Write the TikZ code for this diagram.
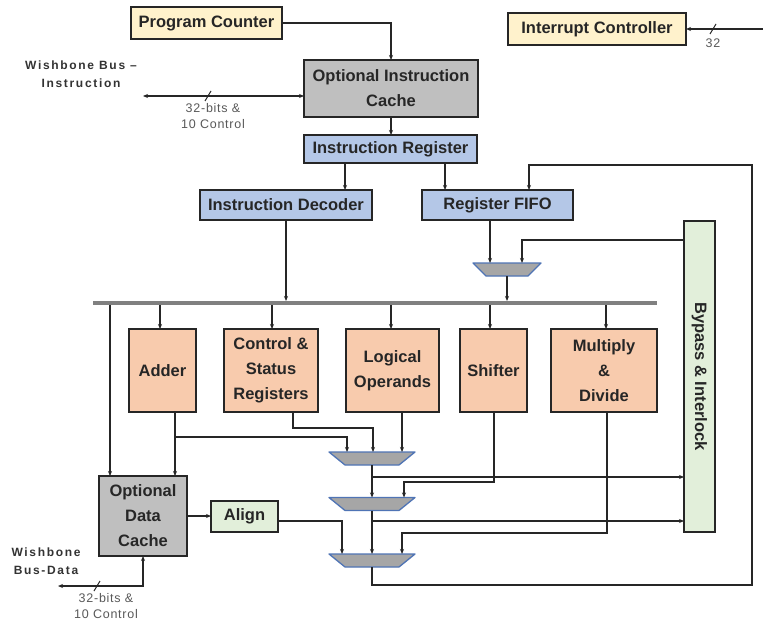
\documentclass[tikz,border=0pt]{standalone}
\usepackage{fontspec}
\setmainfont{Liberation Sans}
\newfontfamily\spacedfont[LetterSpace=14]{Liberation Sans}
\newfontfamily\smallspaced[LetterSpace=6]{Liberation Sans}
\usetikzlibrary{arrows.meta,shapes.geometric,calc}
\definecolor{pcfill}{HTML}{FFF2CC}
\definecolor{grayfill}{HTML}{BFBFBF}
\definecolor{bluefill}{HTML}{B4C7E7}
\definecolor{orangefill}{HTML}{F8CBAD}
\definecolor{greenfill}{HTML}{E2EFDA}
\definecolor{muxfill}{HTML}{A6A6A6}
\definecolor{muxborder}{HTML}{4F74B5}
\definecolor{ink}{HTML}{262626}
\definecolor{labelgray}{HTML}{333333}
\definecolor{smallgray}{HTML}{595959}
\definecolor{busgray}{HTML}{808080}
\begin{document}
\begin{tikzpicture}[x=1pt,y=-1pt,
  box/.style={draw=ink, line width=1.4pt, inner sep=0pt, outer sep=0pt, align=center,
    text=ink, font=\bfseries\fontsize{16.5}{25}\selectfont},
  muxbox/.style={rectangle, inner sep=0pt, outer sep=0pt, minimum height=13},
  muxshape/.style={draw=muxborder, fill=muxfill, line width=1.3pt, line join=round},
  conn/.style={draw=ink, line width=1.2pt},
  arr/.style={conn, -{Stealth[length=5pt,width=4pt]}},
  barr/.style={conn, {Stealth[length=5pt,width=4pt]}-{Stealth[length=5pt,width=4pt]}},
  wlabel/.style={align=center, text=labelgray, font=\spacedfont\bfseries\fontsize{12}{18}\selectfont},
  slabel/.style={align=center, text=smallgray, font=\smallspaced\fontsize{12.5}{16}\selectfont},
  slash/.style={conn, line width=1pt}
]
\useasboundingbox (0,0) rectangle (763,623);
\fill[white] (0,0) rectangle (763,623);

% boxes
\node[box, fill=pcfill, minimum width=151, minimum height=32] (pc) at (206.5,23) {Program Counter};
\node[box, fill=pcfill, minimum width=178, minimum height=32] (ic) at (597,29) {Interrupt Controller};
\node[box, fill=grayfill, minimum width=174, minimum height=57] (oic) at (391,88.5) {Optional Instruction\\Cache};
\node[box, fill=bluefill, minimum width=173, minimum height=28] (ir) at (390.5,149) {Instruction Register};
\node[box, fill=bluefill, minimum width=172, minimum height=30] (idec) at (286,205) {Instruction Decoder};
\node[box, fill=bluefill, minimum width=151, minimum height=30] (rf) at (497.5,205) {Register FIFO};
\node[box, fill=orangefill, minimum width=67, minimum height=83] (adder) at (162.5,370.5) {Adder};
\node[box, fill=orangefill, minimum width=94, minimum height=83] (csr) at (271,370.5) {Control \&\\Status\\Registers};
\node[box, fill=orangefill, minimum width=93, minimum height=83] (logic) at (392.5,370.5) {Logical\\Operands};
\node[box, fill=orangefill, minimum width=67, minimum height=83] (shift) at (493.5,370.5) {Shifter};
\node[box, fill=orangefill, minimum width=106, minimum height=83] (mul) at (604,370.5) {Multiply\\\&\\Divide};
\node[box, fill=greenfill, minimum width=31, minimum height=311] (byp) at (699.5,376.5) {};
\node[text=ink, font=\bfseries\fontsize{16.5}{20}\selectfont, rotate=-90] (byptext) at (byp.center) {Bypass \& Interlock};
\node[box, fill=grayfill, minimum width=88, minimum height=80] (odc) at (143,516) {Optional\\Data\\Cache};
\node[box, fill=greenfill, minimum width=67, minimum height=31] (align) at (244.5,516.5) {Align};

% muxes
\node[muxbox, minimum width=68] (m0) at (507,269.5) {};
\node[muxbox, minimum width=86] (m1) at (372,458.5) {};
\node[muxbox, minimum width=86] (m2) at (372,504) {};
\node[muxbox, minimum width=86] (m3) at (372,560.5) {};
\draw[muxshape] (m0.north west) -- (m0.north east) -- ([xshift=-13pt]m0.south east) -- ([xshift=13pt]m0.south west) -- cycle;
\foreach \m in {m1,m2,m3}{
  \draw[muxshape] (\m.north west) -- (\m.north east) -- ([xshift=-16pt]\m.south east) -- ([xshift=16pt]\m.south west) -- cycle;
}

% bus bar
\coordinate (busL) at (93,303);
\coordinate (busR) at (657,303);
\draw[busgray, line width=4pt] (busL) -- (busR);

% labels
\node[wlabel] (wbi) at (81,74) {Wishbone Bus –\\Instruction};
\node[slabel] (wbil) at (213,116) {32-bits \&\\10 Control};
\node[wlabel] (wbd) at (46,561) {Wishbone\\Bus-Data};
\node[slabel] (wbdl) at (106,606) {32-bits \&\\10 Control};
\node[slabel] (il) at (713,43) {32};

% top connections
\draw[arr] (pc.east) -| (oic.north);
\coordinate (wbiend) at (143,96);
\draw[barr] (wbiend) -- (oic.west |- wbiend);
\draw[slash] (205,101) -- (211,91);
\draw[arr] (oic.south) -- (oic.south |- ir.north);
\draw[arr] (345,0 |- ir.south) -- (345,0 |- idec.north);
\draw[arr] (445,0 |- ir.south) -- (445,0 |- rf.north);
\coordinate (intin) at (763,29);
\draw[arr] (intin) -- (ic.east);
\draw[slash] (710,34) -- (716,24);

% writeback loop
\draw[arr] (m3.south) |- (752,585) |- (529,165) -- (529,0 |- rf.north);

% register fifo / bypass to mux0
\draw[arr] (490,0 |- rf.south) -- (490,0 |- m0.north);
\draw[arr] (byp.west |- 0,240) -| (522,0 |- m0.north);
\draw[arr] (m0.south) -- (507,301);
\draw[arr] (idec.south) -- (286,301);

% bus to units
\draw[arr] (160,305) -- (160,0 |- adder.north);
\draw[arr] (272,305) -- (272,0 |- csr.north);
\draw[arr] (391,305) -- (391,0 |- logic.north);
\draw[arr] (490,305) -- (490,0 |- shift.north);
\draw[arr] (606,305) -- (606,0 |- mul.north);
\draw[arr] (110,305) -- (110,0 |- odc.north);

% unit outputs
\draw[arr] (175,0 |- adder.south) -- (175,0 |- odc.north);
\draw[arr] (175,437) -| (347,0 |- m1.north);
\draw[arr] (293,0 |- csr.south) |- (373,428) -- (373,0 |- m1.north);
\draw[arr] (402,0 |- logic.south) -- (402,0 |- m1.north);
\draw[arr] (m1.south) -- (m2.north);
\draw[arr] (372,477) -- (byp.west |- 0,477);
\draw[arr] (494,0 |- shift.south) |- (404,482) -- (404,0 |- m2.north);
\draw[arr] (m2.south) -- (m3.north);
\draw[arr] (372,521) -- (byp.west |- 0,521);
\draw[arr] (607,0 |- mul.south) |- (402,533) -- (402,0 |- m3.north);
\draw[arr] (align.east |- 0,521) -| (342,0 |- m3.north);
\draw[arr] (odc.east) -- (align.west |- odc.east);

% data bus
\coordinate (wbdend) at (58,586);
\draw[barr] (wbdend) -| (odc.south);
\draw[slash] (94,591) -- (100,581);
\end{tikzpicture}
\end{document}
